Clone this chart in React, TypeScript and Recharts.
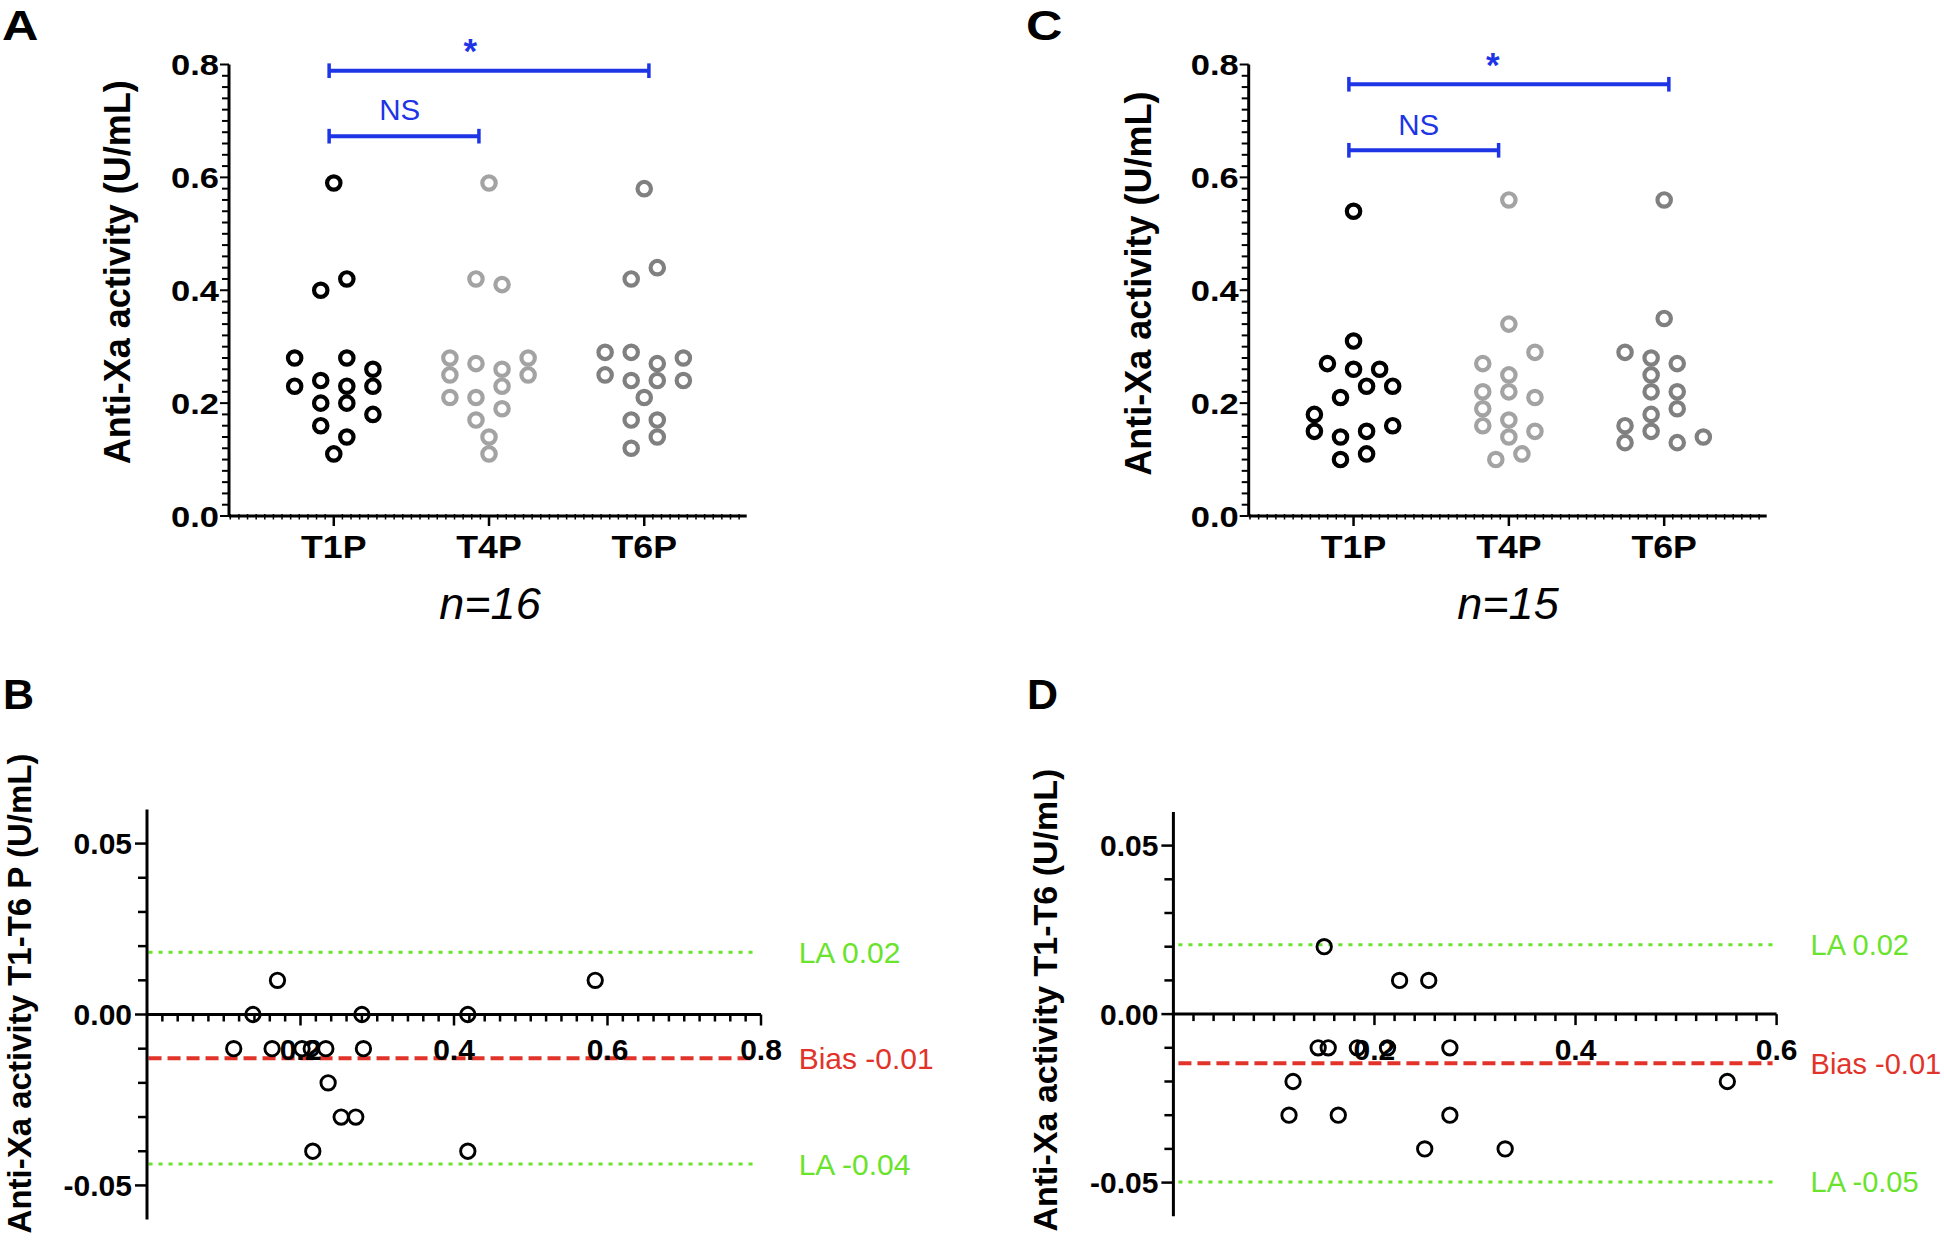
import React from 'react';
import { ScatterChart, Scatter, XAxis, YAxis, ReferenceLine, ReferenceDot } from 'recharts';

const FONT = '"Liberation Sans", Arial, Helvetica, sans-serif';
const BLACK = '#000000';
const LIGHT = '#a3a3a3';
const MID = '#808080';
const BLUE = '#1e35e6';
const GREEN = '#69e32b';
const RED = '#e2332a';

// ---------- shared category info ----------
const categories = ['T1P', 'T4P', 'T6P'];
const groupColors = [BLACK, LIGHT, MID];
const jitterStep = 0.084;

// ---------- Panel A (n=16) ----------
const aT1P = [0.59, 0.40, 0.42, 0.28, 0.28, 0.26, 0.23, 0.24, 0.23, 0.23, 0.20, 0.20, 0.18, 0.16, 0.14, 0.11];
const aT1PCol = [0, -1, 1, -3, 1, 3, -3, -1, 1, 3, -1, 1, 3, -1, 1, 0];
const aT4P = [0.59, 0.42, 0.41, 0.28, 0.28, 0.27, 0.26, 0.25, 0.25, 0.23, 0.21, 0.21, 0.19, 0.17, 0.14, 0.11];
const aT4PCol = [0, -1, 1, -3, 3, -1, 1, -3, 3, 1, -3, -1, 1, -1, 0, 0];
const aT6P = [0.58, 0.42, 0.44, 0.29, 0.29, 0.28, 0.27, 0.25, 0.24, 0.24, 0.24, 0.21, 0.17, 0.17, 0.14, 0.12];
const aT6PCol = [0, -1, 1, -3, -1, 3, 1, -3, -1, 1, 3, 0, -1, 1, 1, -1];
const aSig = [
  { from: 0.97, to: 3.03, y: 0.789, text: '*', tx: 1.88, ty: 0.83 },
  { from: 0.97, to: 1.935, y: 0.673, text: 'NS', tx: 1.425, ty: 0.721 },
];

// ---------- Panel C (n=15) ----------
const cT1P = [0.54, 0.31, 0.27, 0.26, 0.26, 0.23, 0.23, 0.21, 0.18, 0.15, 0.15, 0.16, 0.14, 0.11, 0.10];
const cT1PCol = [0, 0, -2, 0, 2, 1, 3, -1, -3, -3, 1, 3, -1, 1, -1];
const cT4P = [0.56, 0.34, 0.29, 0.27, 0.25, 0.22, 0.22, 0.21, 0.19, 0.17, 0.16, 0.15, 0.14, 0.11, 0.10];
const cT4PCol = [0, 0, 2, -2, 0, -2, 0, 2, -2, 0, -2, 2, 0, 1, -1];
const cT6P = [0.56, 0.35, 0.29, 0.28, 0.27, 0.25, 0.22, 0.22, 0.19, 0.18, 0.16, 0.15, 0.13, 0.13, 0.14];
const cT6PCol = [0, 0, -3, -1, 1, -1, -1, 1, 1, -1, -3, -1, -3, 1, 3];
const cSig = [
  { from: 0.97, to: 3.03, y: 0.765, text: '*', tx: 1.896, ty: 0.805 },
  { from: 0.97, to: 1.934, y: 0.648, text: 'NS', tx: 1.419, ty: 0.694 },
];

// ---------- Panel B (Bland-Altman T1-T6 P, n=16) ----------
const bMean = [0.138, 0.280, 0.418, 0.170, 0.584, 0.113, 0.163, 0.202, 0.214, 0.233, 0.282, 0.236, 0.253, 0.272, 0.216, 0.418];
const bDiff = [0, 0, 0, 0.01, 0.01, -0.01, -0.01, -0.01, -0.01, -0.01, -0.01, -0.02, -0.03, -0.03, -0.04, -0.04];
const bLines = [
  { y: 0.0182, text: 'LA 0.02', kind: 'la' },
  { y: -0.0128, text: 'Bias -0.01', kind: 'bias' },
  { y: -0.0437, text: 'LA -0.04', kind: 'la' },
];
const bLineRange = [0.002, 0.793];
const bXMajors = [0.2, 0.4, 0.6, 0.8];

// ---------- Panel D (Bland-Altman T1-T6, n=15) ----------
const dMean = [0.150, 0.225, 0.254, 0.144, 0.154, 0.183, 0.213, 0.275, 0.119, 0.551, 0.115, 0.164, 0.275, 0.250, 0.330];
const dDiff = [0.02, 0.01, 0.01, -0.01, -0.01, -0.01, -0.01, -0.01, -0.02, -0.02, -0.03, -0.03, -0.03, -0.04, -0.04];
const dLines = [
  { y: 0.0206, text: 'LA 0.02', kind: 'la' },
  { y: -0.0146, text: 'Bias -0.01', kind: 'bias' },
  { y: -0.0498, text: 'LA -0.05', kind: 'la' },
];
const dLineRange = [0.005, 0.596];
const dXMajors = [0.2, 0.4, 0.6];

// ---------- axis tick definitions ----------
function seq(start: number, end: number, step: number): number[] {
  const out: number[] = [];
  const n = Math.round((end - start) / step);
  for (let i = 0; i <= n; i++) out.push(Math.round((start + i * step) * 1e6) / 1e6);
  return out;
}
const isMajor = (v: number, majors: number[]) => majors.some((m) => Math.abs(m - v) < 1e-6);

const catDomain = [0.325, 3.66];
const catTicks = seq(1 - 12 / 18, 3 + 11 / 18, 1 / 18);
const topYMajors = [0, 0.2, 0.4, 0.6, 0.8];
const topYTicks = seq(0, 0.8, 0.02);
const diffYMajors = [-0.05, 0, 0.05];
const diffYTicks = seq(-0.05, 0.05, 0.01);

// ---------- renderers ----------
const ring = (color: string, r: number, sw: number) => (p: any) => (
  <circle cx={p.cx} cy={p.cy} r={r} fill="none" stroke={color} strokeWidth={sw} />
);

const CatTick = (p: any) => {
  const v = p.payload.value;
  const ci = Math.round(v);
  const major = Math.abs(v - ci) < 1e-6 && ci >= 1 && ci <= 3;
  return (
    <g>
      {major ? (
        <line x1={p.x} x2={p.x} y1={p.y} y2={p.y + 10} stroke="#000" strokeWidth={2.5} />
      ) : (
        <line x1={p.x} x2={p.x} y1={p.y - 2} y2={p.y + 3.5} stroke="#000" strokeWidth={1.5} />
      )}
      {major && (
        <text transform={`translate(${p.x},${p.y + 42}) scale(1.17,1)`} textAnchor="middle" fontSize={30.5} fontWeight="bold" fill="#000">
          {categories[ci - 1]}
        </text>
      )}
    </g>
  );
};

const TopYTick = (p: any) => {
  const v = p.payload.value;
  const major = isMajor(v, topYMajors);
  return (
    <g>
      <line x1={p.x - (major ? 9 : 7)} x2={p.x} y1={p.y} y2={p.y} stroke="#000" strokeWidth={2} />
      {major && (
        <text transform={`translate(${p.x - 10},${p.y}) scale(1.17,1)`} textAnchor="end" dy="0.36em" fontSize={29.5} fontWeight="bold" fill="#000">
          {v.toFixed(1)}
        </text>
      )}
    </g>
  );
};

const DiffYTick = (p: any) => {
  const v = p.payload.value;
  const major = isMajor(v, diffYMajors);
  return (
    <g>
      <line x1={p.x - (major ? 12 : 9)} x2={p.x} y1={p.y} y2={p.y} stroke="#000" strokeWidth={2.5} />
      {major && (
        <text x={p.x - 15} y={p.y} dy="0.36em" textAnchor="end" fontSize={30} fontWeight="bold" fill="#000">
          {Math.abs(v) < 1e-9 ? '0.00' : v.toFixed(2)}
        </text>
      )}
    </g>
  );
};

const xTickShape = (majors: number[]) => (p: any) => {
  const v = p.payload.x;
  const major = isMajor(v, majors);
  return (
    <g>
      <line x1={p.cx} x2={p.cx} y1={p.cy} y2={p.cy + (major ? 11 : 7)} stroke="#000" strokeWidth={2.5} />
      {major && (
        <text x={p.cx} y={p.cy + 45.5} textAnchor="middle" fontSize={30} fontWeight="bold" fill="#000">
          {v.toFixed(1)}
        </text>
      )}
    </g>
  );
};

const yLabel = (text: string, dx: number, dy: number, fs: number) => (props: any) => {
  const vb = props.viewBox || { x: 0, y: 0, width: 0, height: 0 };
  const x = (vb.x || 0) + dx;
  const y = vb.y + vb.height / 2 + dy;
  return (
    <text x={x} y={y} transform={`rotate(-90 ${x} ${y})`} textAnchor="middle" dominantBaseline="central" fontSize={fs} fontWeight="bold" fill="#000">
      {text}
    </text>
  );
};

// ---------- dot plot panel (A / C) ----------
type Sig = { from: number; to: number; y: number; text: string; tx: number; ty: number };

function DotPlot(props: {
  groups: { values: number[]; cols: number[] }[];
  sig: Sig[];
  width: number;
  height: number;
  yAxisWidth: number;
  marginRight: number;
  labelDx: number;
  labelDy: number;
}) {
  const { groups, sig, width, height, yAxisWidth, marginRight, labelDx, labelDy } = props;
  const capH = 0.013;
  return (
    <ScatterChart width={width} height={height} margin={{ top: 64.5, right: marginRight, bottom: height - 516 - 60, left: 0 }}>
      <XAxis
        type="number"
        dataKey="x"
        domain={catDomain}
        ticks={catTicks}
        interval={0}
        tick={CatTick}
        tickLine={false}
        tickSize={0}
        tickMargin={0}
        axisLine={{ stroke: '#000', strokeWidth: 3 }}
        height={60}
      />
      <YAxis
        type="number"
        dataKey="y"
        domain={[0, 0.8]}
        ticks={topYTicks}
        interval={0}
        tick={TopYTick}
        tickLine={false}
        tickSize={0}
        tickMargin={0}
        axisLine={{ stroke: '#000', strokeWidth: 3 }}
        width={yAxisWidth}
        label={yLabel('Anti-Xa activity (U/mL)', labelDx, labelDy, 36)}
      />
      {groups.map((g, gi) => (
        <Scatter
          key={'g' + gi}
          data={g.values.map((v, i) => ({ x: gi + 1 + g.cols[i] * jitterStep, y: v }))}
          shape={ring(groupColors[gi], 6.7, 4.2)}
          isAnimationActive={false}
        />
      ))}
      {sig.map((s, i) => (
        <ReferenceLine key={'s' + i} segment={[{ x: s.from, y: s.y }, { x: s.to, y: s.y }]} stroke={BLUE} strokeWidth={4} ifOverflow="visible" />
      ))}
      {sig.map((s, i) => (
        <ReferenceLine key={'cl' + i} segment={[{ x: s.from, y: s.y - capH }, { x: s.from, y: s.y + capH }]} stroke={BLUE} strokeWidth={3.5} ifOverflow="visible" />
      ))}
      {sig.map((s, i) => (
        <ReferenceLine key={'cr' + i} segment={[{ x: s.to, y: s.y - capH }, { x: s.to, y: s.y + capH }]} stroke={BLUE} strokeWidth={3.5} ifOverflow="visible" />
      ))}
      {sig.map((s, i) => (
        <ReferenceDot
          key={'t' + i}
          x={s.tx}
          y={s.ty}
          r={0}
          ifOverflow="visible"
          shape={(p: any) =>
            s.text === '*' ? (
              <text x={p.cx} y={p.cy + 15} textAnchor="middle" fontSize={35} fontWeight="bold" fill={BLUE}>
                {s.text}
              </text>
            ) : (
              <text x={p.cx} y={p.cy + 10.5} textAnchor="middle" fontSize={29.5} fill={BLUE}>
                {s.text}
              </text>
            )
          }
        />
      ))}
    </ScatterChart>
  );
}

// ---------- Bland-Altman panel (B / D) ----------
function BlandAltman(props: {
  means: number[];
  diffs: number[];
  xMax: number;
  xMajors: number[];
  lines: { y: number; text: string; kind: string }[];
  lineRange: number[];
  ylabel: string;
  width: number;
  height: number;
  yAxisWidth: number;
  marginTop: number;
  marginRight: number;
  marginBottom: number;
  labelDx: number;
  labelDy: number;
  labelSize: number;
  refLabelOffset: number;
  refLabelSize: number;
}) {
  const p = props;
  const pts = p.means.map((m, i) => ({ x: m, y: p.diffs[i] }));
  const tickPts = seq(0.02, p.xMax, 0.02).map((v) => ({ x: v, y: 0 }));
  return (
    <ScatterChart width={p.width} height={p.height} margin={{ top: p.marginTop, right: p.marginRight, bottom: p.marginBottom, left: 0 }}>
      <XAxis type="number" dataKey="x" domain={[0, p.xMax]} hide />
      <YAxis
        type="number"
        dataKey="y"
        domain={[-0.06, 0.06]}
        ticks={diffYTicks}
        interval={0}
        tick={DiffYTick}
        tickLine={false}
        tickSize={0}
        tickMargin={0}
        axisLine={{ stroke: '#000', strokeWidth: 3 }}
        width={p.yAxisWidth}
        label={yLabel(p.ylabel, p.labelDx, p.labelDy, p.labelSize)}
      />
      <ReferenceLine y={0} stroke="#000" strokeWidth={3} />
      <Scatter data={tickPts} shape={xTickShape(p.xMajors)} isAnimationActive={false} />
      {p.lines.map((l, i) => (
        <ReferenceLine
          key={'l' + i}
          segment={[{ x: p.lineRange[0], y: l.y }, { x: p.lineRange[1], y: l.y }]}
          stroke={l.kind === 'bias' ? RED : GREEN}
          strokeWidth={l.kind === 'bias' ? 4 : 3}
          strokeDasharray={l.kind === 'bias' ? '13 6' : '4 6'}
          label={{ value: l.text, position: 'right', offset: p.refLabelOffset, fill: l.kind === 'bias' ? RED : GREEN, fontSize: p.refLabelSize }}
        />
      ))}
      <Scatter data={pts} shape={ring(BLACK, 7.2, 2.9)} isAnimationActive={false} />
    </ScatterChart>
  );
}

export default function App() {
  return (
    <div style={{ position: 'absolute', left: 0, top: 0, width: 1944, height: 1242, background: '#fff', fontFamily: FONT, overflow: 'hidden' }}>
      <div style={{ position: 'absolute', left: 0, top: 0 }}>
        <DotPlot
          groups={[
            { values: aT1P, cols: aT1PCol },
            { values: aT4P, cols: aT4PCol },
            { values: aT6P, cols: aT6PCol },
          ]}
          sig={aSig}
          width={972}
          height={621}
          yAxisWidth={229}
          marginRight={225.3}
          labelDx={117}
          labelDy={-18}
        />
      </div>
      <div style={{ position: 'absolute', left: 1020, top: 0 }}>
        <DotPlot
          groups={[
            { values: cT1P, cols: cT1PCol },
            { values: cT4P, cols: cT4PCol },
            { values: cT6P, cols: cT6PCol },
          ]}
          sig={cSig}
          width={924}
          height={621}
          yAxisWidth={228.7}
          marginRight={177.3}
          labelDx={119}
          labelDy={-6.6}
        />
      </div>
      <div style={{ position: 'absolute', left: 0, top: 640 }}>
        <BlandAltman
          means={bMean}
          diffs={bDiff}
          xMax={0.8}
          xMajors={bXMajors}
          lines={bLines}
          lineRange={bLineRange}
          ylabel="Anti-Xa activity T1-T6 P (U/mL)"
          width={972}
          height={602}
          yAxisWidth={147}
          marginTop={169.4}
          marginRight={211}
          marginBottom={22.4}
          labelDx={19}
          labelDy={-21}
          labelSize={33}
          refLabelOffset={43}
          refLabelSize={30}
        />
      </div>
      <div style={{ position: 'absolute', left: 972, top: 640 }}>
        <BlandAltman
          means={dMean}
          diffs={dDiff}
          xMax={0.6}
          xMajors={dXMajors}
          lines={dLines}
          lineRange={dLineRange}
          ylabel="Anti-Xa activity T1-T6 (U/mL)"
          width={972}
          height={602}
          yAxisWidth={201.4}
          marginTop={171.9}
          marginRight={167.4}
          marginBottom={25.7}
          labelDx={73}
          labelDy={-14}
          labelSize={34}
          refLabelOffset={38}
          refLabelSize={29}
        />
      </div>
      <svg width={1944} height={1242} style={{ position: 'absolute', left: 0, top: 0, pointerEvents: 'none' }}>
        <g fontFamily={FONT} fill="#000">
          <text transform="translate(2,40) scale(1.2,1)" fontSize={42} fontWeight="bold">A</text>
          <text transform="translate(1026,40) scale(1.2,1)" fontSize={42} fontWeight="bold">C</text>
          <text x={3} y={709} fontSize={43} fontWeight="bold">B</text>
          <text x={1027} y={709} fontSize={43} fontWeight="bold">D</text>
          <text x={490} y={619} textAnchor="middle" fontSize={45} fontStyle="italic">n=16</text>
          <text x={1508} y={619} textAnchor="middle" fontSize={45} fontStyle="italic">n=15</text>
        </g>
      </svg>
    </div>
  );
}
